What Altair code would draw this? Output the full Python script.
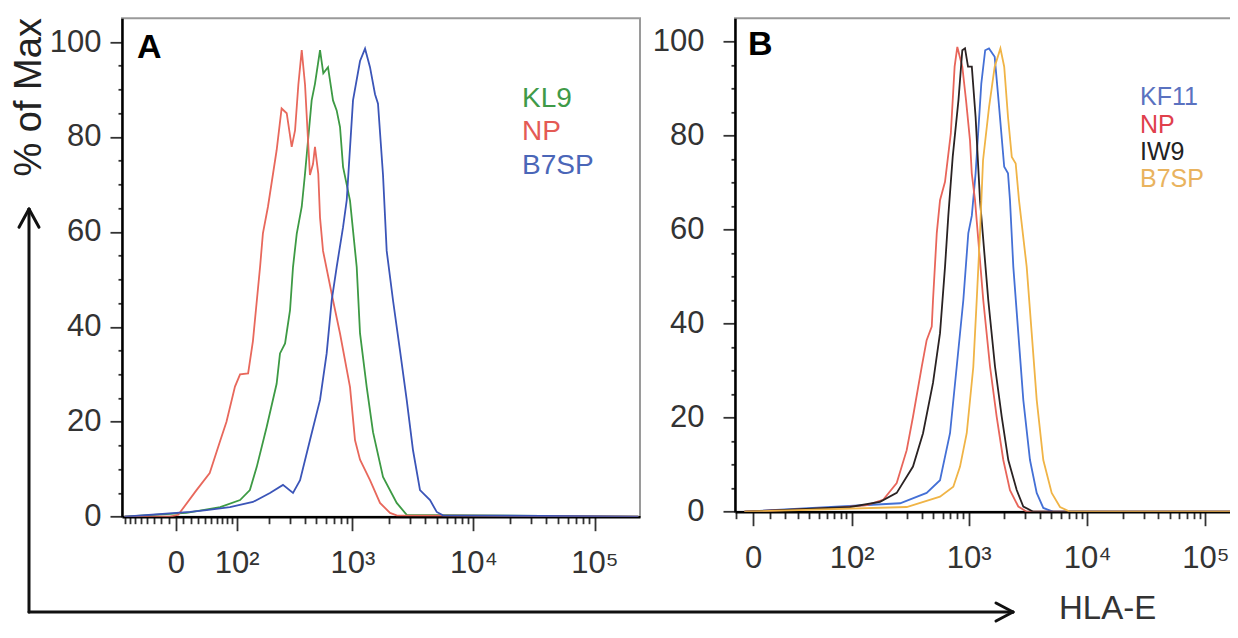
import math
import altair as alt
import pandas as pd

# ---------------- data (fluorescence intensity, % of max) ----------------
A_SERIES = ["KL9", "NP", "B7SP"]
A_LINE_COLORS = ["#3d9a44", "#e8685c", "#3b55b8"]
A_TEXT_COLORS = ["#3f9a48", "#e45a55", "#4a66b8"]

A_KL9_I = [-80, 14, 66, 108, 134, 155, 190, 232, 248, 274, 302, 320, 344, 379, 404, 459, 489, 539, 574, 628,
           691, 741, 790, 837, 956, 1086, 1157, 1314, 1482, 1792, 2325, 2812, 230000]
A_KL9_PCT = [0, 0.8, 2, 3.5, 5.6, 10.5, 18.9, 28, 34.4, 36.5, 43.5, 52.6, 59.6, 65.3, 72.3, 87.7, 91.2, 98.3, 93.4, 94.7,
             87.7, 85.6, 82.1, 73.7, 66.6, 52.6, 38.6, 27.3, 17.8, 8.4, 2.9, 0.4, 0]

A_NP_I = [-80, -8, 3, 28, 48, 66, 78, 96, 108, 129, 143, 166, 176, 195, 232, 256, 283, 312, 333, 355,
          379, 404, 428, 444, 471, 489, 521, 539, 571, 691, 790, 956, 1052, 1157, 1399, 1692, 2047, 2325, 230000]
A_NP_PCT = [0, 0, 0.4, 5.6, 9.2, 16, 20, 27.4, 30, 30.2, 37, 52.6, 59.7, 65.3, 77.2, 86, 85, 77.9, 81.4, 91,
            98.3, 91, 79.3, 72, 74.3, 77.9, 72.3, 63, 56, 45.6, 38.6, 27.3, 16.1, 12, 7.7, 2.9, 0.8, 0.3, 0]

A_B7SP_I = [-80, 19, 43, 85, 143, 203, 263, 320, 367, 444, 539, 612, 674, 741, 837, 898, 1012, 1157, 1273, 1399,
            1539, 1629, 1792, 1922, 2167, 2476, 2812, 3171, 3622, 4382, 4977, 5607, 230000]
A_B7SP_PCT = [0, 1.0, 1.4, 2, 3.1, 5, 6.7, 5, 7.7, 16.1, 24.6, 34.4, 45.6, 52.6, 61, 66.7, 87.7, 96, 98.6, 94.7,
              89, 87, 72, 56, 45.6, 35, 24.6, 14, 5.6, 3.5, 1, 0.3, 0]

B_SERIES = ["KF11", "NP", "IW9", "B7SP"]
B_LINE_COLORS = ["#4470d6", "#e8655a", "#2a2222", "#f0b446"]
B_TEXT_COLORS = ["#5a72c0", "#e0404c", "#222222", "#e9b35e"]

B_KF11_I = [-5, 262, 440, 571, 694, 790, 899, 991, 1061, 1142, 1276, 1376, 1482, 1656, 1784, 1993, 2146, 2230, 2380, 2622,
            2890, 3292, 3752, 4266, 5154, 250000]
B_KF11_PCT = [0, 1.8, 4, 6.7, 16.7, 30.8, 45, 59.3, 63, 72, 91.1, 98.2, 98.6, 96.8, 87.6, 73.4, 72, 66.3, 52.1, 38,
              23.8, 11, 4, 0.8, 0, 0]

B_NP_I = [-5, 73.6, 135.6, 187.2, 245, 298, 337, 399.6, 440, 486, 498, 536, 571, 629.4, 704.8, 759, 800, 881.6, 947.6, 1024,
          1060, 1129, 1326, 1512, 1722, 1958, 2230, 2622, 3088, 250000]
B_NP_PCT = [0, 0.8, 1.4, 2.5, 6.1, 13.1, 20.2, 30.8, 36.5, 39.4, 45, 59.3, 66.3, 70.2, 80.5, 94.7, 98.9, 94.7, 87.6, 79,
            72, 66.3, 45, 30.9, 20.2, 11, 4.6, 1.1, 0, 0]

B_IW9_I = [-5, 96.8, 176.4, 245, 337, 410, 498, 571, 629.4, 671.4, 731.2, 818, 881.6, 929, 985.4, 1061, 1142, 1244, 1462, 1666,
           1900, 2158, 2542, 2890, 3512, 250000]
B_IW9_PCT = [0, 1, 2.1, 4, 9.6, 16.7, 27.4, 38, 52.1, 63, 75.5, 87.6, 98.2, 98.6, 94.7, 94.7, 84, 66.3, 45, 30.9,
             20.2, 11, 4.6, 1.1, 0, 0]

B_B7SP_I = [-5, 298, 571, 740, 843.4, 960.8, 1092, 1167, 1244, 1320, 1482, 1656, 1851, 1993, 2146, 2310, 2492, 2658, 3088, 3404,
            3752, 4266, 5024, 5906, 7174, 250000]
B_B7SP_PCT = [0, 1, 3.2, 5.3, 9.6, 16.7, 30.8, 45, 59.3, 74.8, 86, 94.7, 98.6, 94.7, 84, 75.5, 74.1, 66.3, 52.1, 38,
              23.8, 11, 4, 1, 0, 0]

X_TICKS = [0, 100, 1000, 10000, 100000]
X_TICK_LABELS = ["0", "10²", "10³", "10⁴", "10⁵"]
X_MINOR = [k * 10 ** n for n in range(1, 5) for k in range(2, 10)] + [10] + [-k * 10 for k in range(1, 10)]
Y_MAJOR_STEP = 20
Y_TICKS = list(range(0, 101, 5))

FONT = "Liberation Sans"
LN10 = math.log(10)


def to_pos(v, w):
    return math.asinh(v / w) / LN10


def panel(series, line_colors, text_colors, xs, ys, w, xdom, width, height,
          letter, letter_xy, legend_x, legend_ys, legend_size, y_pad, extra):
    rows = []
    for name, xl, yl in zip(series, xs, ys):
        for x, y in zip(xl, yl):
            rows.append({"series": name, "I": x, "pct": y})
    df = pd.DataFrame(rows)

    maj = [to_pos(v, w) for v in X_TICKS]
    minor = [to_pos(v, w) for v in X_MINOR if xdom[0] <= to_pos(v, w) <= xdom[1]]
    is_major = " || ".join(f"abs(datum.value - ({p!r})) < 1e-9" for p in maj)
    label_expr = " : ".join(f"abs(datum.value - ({p!r})) < 1e-9 ? '{lab}'"
                            for p, lab in zip(maj, X_TICK_LABELS)) + " : ''"

    lines = alt.Chart(df).transform_calculate(
        pos=f"log(datum.I/{w} + sqrt(datum.I*datum.I/({w}*{w}) + 1))/LN10"
    ).mark_line(strokeWidth=1.8, clip=True).encode(
        x=alt.X("pos:Q",
                scale=alt.Scale(domain=list(xdom), nice=False, zero=False),
                axis=alt.Axis(values=maj + minor, labelExpr=label_expr, title=None, grid=False,
                              labelOverlap=False, labelFlush=False, labelPadding=18,
                              tickSize={"condition": {"test": is_major, "value": 14}, "value": 7})),
        y=alt.Y("pct:Q",
                scale=alt.Scale(domain=[0, 105], nice=False),
                axis=alt.Axis(values=Y_TICKS, title=None, grid=False, labelPadding=y_pad,
                              labelExpr=f"datum.value % {Y_MAJOR_STEP} == 0 ? '' + datum.value : ''",
                              tickSize={"condition": {"test": f"datum.value % {Y_MAJOR_STEP} == 0", "value": 12},
                                        "value": 4})),
        color=alt.Color("series:N", scale=alt.Scale(domain=series, range=line_colors), legend=None),
    )

    one = alt.Data(values=[{"k": 0}])
    layers = [lines]
    layers.append(alt.Chart(one).mark_text(text=letter, font=FONT, fontSize=34, fontWeight="bold",
                                           align="left", baseline="alphabetic", color="#000")
                  .encode(x=alt.value(letter_xy[0]), y=alt.value(letter_xy[1])))
    for name, col, ly in zip(series, text_colors, legend_ys):
        layers.append(alt.Chart(one).mark_text(text=name, font=FONT, fontSize=legend_size,
                                               align="left", baseline="alphabetic", color=col)
                      .encode(x=alt.value(legend_x), y=alt.value(ly)))
    layers.extend(extra)
    return alt.layer(*layers).properties(width=width, height=height)


def rule(x1, y1, x2, y2):
    return alt.Chart(alt.Data(values=[{"k": 0}])).mark_rule(
        color="#111", strokeWidth=3, strokeCap="round"
    ).encode(x=alt.value(x1), y=alt.value(y1), x2=alt.value(x2), y2=alt.value(y2))


one = alt.Data(values=[{"k": 0}])
deco = [
    rule(-93, 190.7, -93, 593.7),
    rule(-93, 190.7, -103, 209),
    rule(-93, 190.7, -83, 209),
    rule(-93, 593.7, 891, 593.7),
    rule(891, 593.7, 874, 584.7),
    rule(891, 593.7, 874, 602.7),
    alt.Chart(one).mark_text(text="% of Max", font=FONT, fontSize=38, angle=270,
                             align="center", baseline="middle", color="#222")
    .encode(x=alt.value(-92.5), y=alt.value(79)),
    alt.Chart(one).mark_text(text="HLA-E", font=FONT, fontSize=33,
                             align="left", baseline="alphabetic", color="#333")
    .encode(x=alt.value(937), y=alt.value(600.2)),
]

panel_a = panel(A_SERIES, A_LINE_COLORS, A_TEXT_COLORS,
                [A_KL9_I, A_NP_I, A_B7SP_I], [A_KL9_PCT, A_NP_PCT, A_B7SP_PCT],
                70, (-0.4459, 3.8315), 518, 498.4,
                "A", (15, 39.7), 400, [88.4, 121.7, 155.7], 28, 9, deco)

panel_b = panel(B_SERIES, B_LINE_COLORS, B_TEXT_COLORS,
                [B_KF11_I, B_NP_I, B_IW9_I, B_B7SP_I], [B_KF11_PCT, B_NP_PCT, B_IW9_PCT, B_B7SP_PCT],
                30, (-0.1522, 4.2435), 520, 493.4,
                "B", (13, 36.7), 405, [86.7, 114.7, 141.7, 168.7], 25, 19, [])

chart = alt.hconcat(panel_a, panel_b, spacing=95, bounds="flush").resolve_scale(
    color="independent"
).configure_view(
    stroke="#9a9a9a", strokeWidth=2
).configure_axis(
    domainColor="#000", domainWidth=2.5, tickColor="#333", tickWidth=1.8,
    labelFont=FONT, labelFontSize=31, labelColor="#333"
).properties(
    autosize=alt.AutoSizeParams(type="none"),
    padding={"left": 114, "top": 10.3, "right": 1108, "bottom": 607.7}
)

chart.save("out.html", embed_options={"renderer": "svg", "actions": False})
